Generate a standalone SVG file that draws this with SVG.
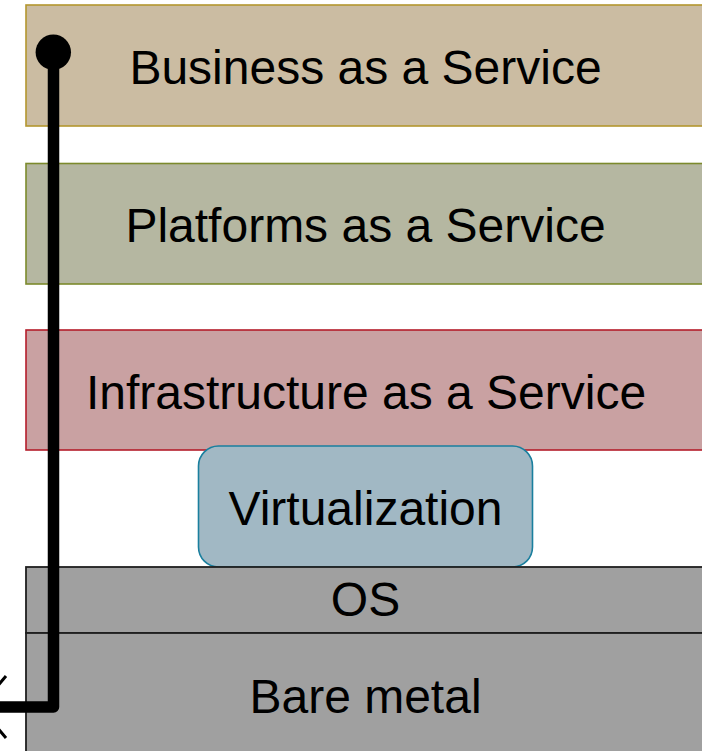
<svg xmlns="http://www.w3.org/2000/svg" width="702" height="751" viewBox="0 0 702 751">
  <defs>
    <style>
      .lbl { font-family: "Liberation Sans", Arial, sans-serif; font-size: 48px; fill: #000; text-anchor: middle; }
      .layer { stroke-width: 1.6; }
      .hw { fill: #a0a0a0; stroke: #1e1e1e; stroke-width: 1.8; }
      .wire { fill: none; stroke: #000; stroke-width: 11.5; stroke-linejoin: round; }
    </style>
  </defs>

  <rect width="702" height="751" fill="#ffffff"/>

  <g id="baas">
    <rect class="layer" x="26" y="5" width="700" height="121" fill="#cbbca2" stroke="#b3962f"/>
    <text class="lbl" x="365.5" y="84">Business as a Service</text>
  </g>

  <g id="paas">
    <rect class="layer" x="26" y="163.5" width="700" height="120.5" fill="#b5b7a1" stroke="#7c8a2c"/>
    <text class="lbl" x="365.5" y="242">Platforms as a Service</text>
  </g>

  <g id="iaas">
    <rect class="layer" x="26" y="330" width="700" height="120" fill="#c9a1a2" stroke="#b51d2b"/>
    <text class="lbl" x="366" y="409">Infrastructure as a Service</text>
  </g>

  <g id="virtualization">
    <rect x="198.5" y="446" width="334" height="121" rx="20" ry="20" fill="#a1b8c4" stroke="#1a7f9e" stroke-width="1.6"/>
    <text class="lbl" x="365.5" y="525">Virtualization</text>
  </g>

  <g id="os">
    <rect class="hw" x="26" y="567" width="700" height="66"/>
    <text class="lbl" x="365.5" y="616" font-size="40">OS</text>
  </g>

  <g id="bare-metal">
    <rect class="hw" x="26" y="633" width="700" height="130"/>
    <text class="lbl" x="365.5" y="713">Bare metal</text>
  </g>

  <g id="connectors">
    <circle cx="53.3" cy="52.2" r="17.7" fill="#000"/>
    <path class="wire" d="M53.5 52 V707 H-2"/>
    <path d="M6 676 L-20 707 L6 738" fill="none" stroke="#000" stroke-width="3"/>
  </g>
</svg>
